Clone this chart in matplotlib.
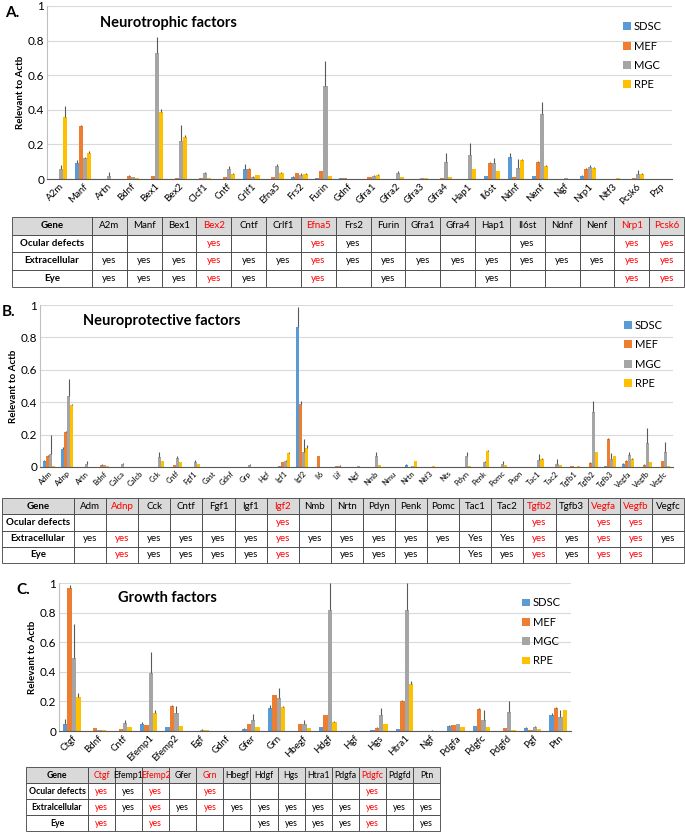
import matplotlib
matplotlib.use("Agg")
from matplotlib import pyplot as plt
from matplotlib.patches import Rectangle
import numpy as np

plt.rcParams['font.family'] = ['Lato', 'DejaVu Sans']

series_names = ["SDSC", "MEF", "MGC", "RPE"]
series_colors = ["#5B9BD5", "#ED7D31", "#A5A5A5", "#FFC000"]

# ---- panel A: neurotrophic factors
a_genes = ["A2m", "Manf", "Artn", "Bdnf", "Bex1", "Bex2", "Clcf1", "Cntf", "Crlf1", "Efna5",
           "Frs2", "Furin", "Gdnf", "Gfra1", "Gfra2", "Gfra3", "Gfra4", "Hap1", "Il6st", "Ndnf",
           "Nenf", "Ngf", "Nrp1", "Ntf3", "Pcsk6", "Pzp"]
a_sdsc = [0, 0.09, 0, 0, 0, 0, 0, 0, 0.06, 0, 0.01, 0.005, 0.003, 0, 0, 0.002, 0, 0, 0.015, 0.125,
          0.015, 0, 0.02, 0, 0, 0]
a_sdsc_err = [0, 0.02, 0, 0, 0, 0, 0, 0, 0.025, 0, 0.005, 0, 0, 0, 0, 0, 0, 0, 0.005, 0.025,
              0.005, 0, 0.003, 0, 0, 0]
a_mef = [0, 0.305, 0, 0.018, 0.015, 0.005, 0.005, 0.01, 0.06, 0.01, 0.035, 0.045, 0.003, 0.01, 0, 0,
         0.005, 0, 0.095, 0.01, 0.1, 0, 0.06, 0, 0.003, 0]
a_mef_err = [0, 0.005, 0, 0.003, 0, 0, 0, 0.003, 0.005, 0, 0.002, 0, 0, 0.002, 0, 0, 0.002, 0,
             0.005, 0, 0.005, 0, 0.003, 0, 0, 0]
a_mgc = [0.055, 0.12, 0.02, 0.012, 0.73, 0.22, 0.035, 0.055, 0.01, 0.073, 0.025, 0.535, 0, 0.02,
         0.035, 0.005, 0.1, 0.14, 0.095, 0.065, 0.375, 0.003, 0.07, 0, 0.03, 0]
a_mgc_err = [0.025, 0.005, 0.02, 0.002, 0.09, 0.09, 0.008, 0.018, 0.005, 0.015, 0.008, 0.145, 0,
             0.005, 0.01, 0.002, 0.05, 0.07, 0.025, 0.05, 0.07, 0.003, 0.01, 0, 0.02, 0]
a_rpe = [0.36, 0.15, 0, 0.008, 0.385, 0.24, 0.003, 0.03, 0.025, 0.033, 0.03, 0.015, 0, 0.025, 0.01,
         0.005, 0.01, 0.055, 0.045, 0.11, 0.075, 0.002, 0.065, 0.003, 0.03, 0]
a_rpe_err = [0.06, 0.01, 0, 0, 0.02, 0.015, 0, 0.003, 0, 0.005, 0.005, 0, 0, 0.005, 0.003, 0,
             0.003, 0, 0, 0.005, 0.005, 0, 0.005, 0, 0.005, 0]

a_tab_genes = ["A2m", "Manf", "Bex1", "Bex2", "Cntf", "Crlf1", "Efna5", "Frs2", "Furin", "Gfra1",
               "Gfra4", "Hap1", "Il6st", "Ndnf", "Nenf", "Nrp1", "Pcsk6"]
a_tab_ocular = ["", "", "", "yes", "", "", "yes", "yes", "", "", "", "", "yes", "", "", "yes", "yes"]
a_tab_extra = ["yes", "yes", "yes", "yes", "yes", "yes", "yes", "yes", "yes", "yes", "yes", "yes",
               "yes", "yes", "yes", "yes", "yes"]
a_tab_eye = ["yes", "yes", "yes", "yes", "yes", "", "yes", "", "yes", "", "", "yes", "", "", "",
             "yes", "yes"]
a_red = ["Bex2", "Efna5", "Nrp1", "Pcsk6"]

# ---- panel B: neuroprotective factors
b_genes = ["Adm", "Adnp", "Artn", "Bdnf", "Calca", "Calcb", "Cck", "Cntf", "Fgf1", "Gast", "Gdnf",
           "Grp", "Hgf", "Igf1", "Igf2", "Il6", "Lif", "Ngf", "Nmb", "Nmu", "Nrtn", "Ntf3", "Nts",
           "Pdyn", "Penk", "Pomc", "Pspn", "Tac1", "Tac2", "Tgfb1", "Tgfb2", "Tgfb3", "Vegfa",
           "Vegfb", "Vegfc"]
b_sdsc = [0.035, 0.11, 0, 0, 0, 0, 0, 0, 0, 0, 0.002, 0, 0, 0.008, 0.865, 0, 0, 0, 0, 0, 0.015,
          0, 0, 0, 0, 0, 0, 0, 0, 0, 0, 0.005, 0.02, 0.003, 0]
b_sdsc_err = [0.01, 0.015, 0, 0, 0, 0, 0, 0, 0, 0, 0, 0, 0, 0, 0.125, 0, 0, 0, 0, 0, 0.005,
              0, 0, 0, 0, 0, 0, 0, 0, 0, 0, 0, 0.005, 0, 0]
b_mef = [0.07, 0.215, 0, 0.015, 0, 0, 0.003, 0.01, 0, 0.002, 0.003, 0, 0.003, 0.03, 0.39, 0.065,
         0.008, 0, 0, 0, 0.003, 0, 0, 0, 0, 0, 0, 0, 0, 0.004, 0.025, 0.175, 0.04, 0.015, 0.035]
b_mef_err = [0.003, 0.01, 0, 0.003, 0, 0, 0, 0.003, 0, 0, 0, 0, 0, 0.003, 0.015, 0.003, 0, 0, 0,
             0, 0, 0, 0, 0, 0, 0, 0, 0, 0, 0, 0.003, 0.005, 0.003, 0.003, 0]
b_mgc = [0.08, 0.44, 0.02, 0.01, 0.018, 0, 0.06, 0.055, 0.03, 0, 0, 0.01, 0, 0.035, 0.09, 0,
         0.005, 0.005, 0.065, 0, 0.005, 0, 0, 0.07, 0.03, 0.02, 0, 0.045, 0.02, 0, 0.34, 0.05,
         0.075, 0.15, 0.095]
b_mgc_err = [0.115, 0.105, 0.02, 0.003, 0.008, 0, 0.035, 0.015, 0.012, 0, 0, 0.01, 0, 0.01, 0.085,
             0, 0.008, 0.003, 0.03, 0, 0.003, 0, 0, 0.025, 0.01, 0.02, 0, 0.035, 0.03, 0, 0.07,
             0.035, 0.02, 0.09, 0.06]
b_rpe = [0.008, 0.38, 0, 0.005, 0, 0, 0.035, 0.03, 0.018, 0, 0, 0.003, 0, 0.088, 0.12, 0, 0,
         0.002, 0.01, 0.002, 0.035, 0.004, 0, 0.008, 0.097, 0.015, 0, 0.05, 0.012, 0.004, 0.09,
         0.065, 0.05, 0.033, 0.005]
b_rpe_err = [0, 0.01, 0, 0, 0, 0, 0.003, 0.003, 0.003, 0, 0, 0, 0, 0.005, 0.015, 0, 0, 0, 0, 0,
             0.003, 0, 0, 0, 0.005, 0, 0, 0.003, 0, 0, 0.003, 0.005, 0.003, 0, 0]

b_tab_genes = ["Adm", "Adnp", "Cck", "Cntf", "Fgf1", "Igf1", "Igf2", "Nmb", "Nrtn", "Pdyn", "Penk",
               "Pomc", "Tac1", "Tac2", "Tgfb2", "Tgfb3", "Vegfa", "Vegfb", "Vegfc"]
b_tab_ocular = ["", "", "", "", "", "", "yes", "", "", "", "", "", "", "", "yes", "", "yes", "yes", ""]
b_tab_extra = ["yes", "yes", "yes", "yes", "yes", "yes", "yes", "yes", "yes", "yes", "yes", "yes",
               "Yes", "Yes", "yes", "yes", "yes", "yes", "yes"]
b_tab_eye = ["", "yes", "yes", "yes", "yes", "yes", "yes", "", "yes", "yes", "yes", "", "Yes",
             "yes", "yes", "yes", "yes", "yes", ""]
b_red = ["Adnp", "Igf2", "Tgfb2", "Vegfa", "Vegfb"]

# ---- panel C: growth factors
c_genes = ["Ctgf", "Bdnf", "Cntf", "Efemp1", "Efemp2", "Egf", "Gdnf", "Gfer", "Grn", "Hbegf",
           "Hdgf", "Hgf", "Hgs", "Htra1", "Ngf", "Pdgfa", "Pdgfc", "Pdgfd", "Pgf", "Ptn"]
c_sdsc = [0.045, 0, 0, 0.045, 0.025, 0, 0.003, 0.012, 0.155, 0.003, 0.025, 0, 0.005, 0.012, 0,
          0.035, 0.033, 0, 0.02, 0.11]
c_sdsc_err = [0.035, 0, 0, 0.015, 0.003, 0, 0, 0.005, 0.02, 0, 0.002, 0, 0, 0.003, 0, 0.005,
              0.003, 0, 0.005, 0.01]
c_mef = [0.968, 0.018, 0.012, 0.042, 0.17, 0, 0, 0.045, 0.24, 0.045, 0.105, 0.003, 0.022, 0.205,
         0, 0.04, 0.15, 0.02, 0.008, 0.155]
c_mef_err = [0.02, 0.002, 0, 0, 0.008, 0, 0, 0.003, 0.005, 0.003, 0.005, 0, 0.003, 0.005, 0,
             0.003, 0.008, 0.003, 0, 0.005]
c_mgc = [0.495, 0.01, 0.055, 0.39, 0.125, 0.008, 0, 0.072, 0.22, 0.05, 0.82, 0, 0.105, 0.815,
         0.003, 0.045, 0.075, 0.13, 0.025, 0.092]
c_mgc_err = [0.225, 0, 0.018, 0.145, 0.045, 0.003, 0, 0.04, 0.07, 0.022, 0.18, 0, 0.05, 0.185,
             0.005, 0.005, 0.07, 0.07, 0.008, 0.05]
c_rpe = [0.232, 0.008, 0.03, 0.125, 0.032, 0.005, 0, 0.025, 0.16, 0.018, 0.06, 0, 0.045, 0.32,
         0.002, 0.03, 0.03, 0.01, 0.012, 0.14]
c_rpe_err = [0.022, 0, 0, 0.02, 0, 0, 0, 0, 0.01, 0, 0.005, 0, 0, 0.015, 0, 0, 0, 0, 0, 0.003]

c_tab_genes = ["Ctgf", "Efemp1", "Efemp2", "Gfer", "Grn", "Hbegf", "Hdgf", "Hgs", "Htra1", "Pdgfa",
               "Pdgfc", "Pdgfd", "Ptn"]
c_tab_ocular = ["yes", "yes", "yes", "", "yes", "", "", "", "", "", "yes", "", ""]
c_tab_extra = ["yes", "yes", "yes", "yes", "yes", "yes", "yes", "yes", "yes", "yes", "yes", "yes", "yes"]
c_tab_eye = ["yes", "", "yes", "", "", "", "yes", "yes", "yes", "yes", "yes", "", "yes"]
c_red = ["Ctgf", "Efemp2", "Grn", "Pdgfc"]

W, H = 685, 834


def draw_panel(rect, genes, values, errors, title, title_x, letter, letter_x, tick_fs):
    ax = fig.add_axes(rect)
    x = np.arange(len(genes))
    bw = 0.17
    for i in range(4):
        pos = x + (i - 1.5) * bw
        ax.bar(pos, values[i], bw, color=series_colors[i], label=series_names[i], zorder=2)
        ax.errorbar(pos, values[i], yerr=[np.zeros(len(genes)), errors[i]], fmt="none",
                    ecolor="#595959", elinewidth=0.8, capsize=0, zorder=3)
    ax.set_xlim(-0.5, len(genes) - 0.5)
    ax.set_ylim(0, 1)
    ax.set_yticks([0, 0.2, 0.4, 0.6, 0.8, 1.0])
    ax.set_yticklabels(["0", "0.2", "0.4", "0.6", "0.8", "1"], fontsize=8.5)
    ax.set_xticks(x)
    ax.set_xticklabels(genes, rotation=45, ha="right", rotation_mode="anchor", fontsize=tick_fs)
    ax.tick_params(length=0, pad=2)
    ax.grid(axis="y", color="#D9D9D9", lw=0.8, zorder=0)
    for s in ["top", "right"]:
        ax.spines[s].set_visible(False)
    ax.spines["left"].set_color("#BFBFBF")
    ax.spines["bottom"].set_color("#595959")
    ax.set_ylabel("Relevant to Actb", fontsize=7, fontweight="bold", labelpad=2)
    ax.text(title_x, 0.9, title, transform=ax.transAxes, ha="left", va="center",
            fontsize=10.5, fontweight="bold")
    ax.legend(loc="upper right", bbox_to_anchor=(1.0, 0.97), frameon=False, fontsize=8,
              handlelength=0.7, handleheight=0.7, handletextpad=0.3, labelspacing=0.75)
    fig.text(letter_x / W, rect[1] + rect[3], letter, fontsize=11, fontweight="bold",
             ha="left", va="top")
    return ax


def draw_table(ax, x0, x1, gene_w, y0, row_h, genes, ocular, extra, eye, red, extra_label, fs):
    n = len(genes)
    cw = (x1 - x0 - gene_w) / n
    rows = [("Gene", genes), ("Ocular defects", ocular), (extra_label, extra), ("Eye", eye)]
    for r, (label, cells) in enumerate(rows):
        y = y0 + r * row_h
        fill = "#D9D9D9" if r == 0 else "white"
        ax.add_patch(Rectangle((x0, y), gene_w, row_h, facecolor=fill, edgecolor="#404040", lw=0.6))
        ax.text(x0 + gene_w / 2, y + row_h / 2, label, ha="center", va="center",
                fontsize=fs, fontweight="bold")
        for j in range(n):
            cx = x0 + gene_w + j * cw
            ax.add_patch(Rectangle((cx, y), cw, row_h, facecolor=fill, edgecolor="#404040", lw=0.6))
            col = "#FF0000" if genes[j] in red else "black"
            ax.text(cx + cw / 2, y + row_h / 2, cells[j], ha="center", va="center",
                    fontsize=fs, color=col)


fig = plt.figure(figsize=(W / 100, H / 100), dpi=100)

draw_panel([47 / W, 1 - 179 / H, 625 / W, 173 / H], a_genes,
           [a_sdsc, a_mef, a_mgc, a_rpe], [a_sdsc_err, a_mef_err, a_mgc_err, a_rpe_err],
           "Neurotrophic factors", 0.085, "A.", 5, 7)
draw_panel([40 / W, 1 - 467 / H, 633 / W, 162 / H], b_genes,
           [b_sdsc, b_mef, b_mgc, b_rpe], [b_sdsc_err, b_mef_err, b_mgc_err, b_rpe_err],
           "Neuroprotective factors", 0.068, "B.", 2, 5.5)
draw_panel([59 / W, 1 - 731 / H, 512 / W, 148 / H], c_genes,
           [c_sdsc, c_mef, c_mgc, c_rpe], [c_sdsc_err, c_mef_err, c_mgc_err, c_rpe_err],
           "Growth factors", 0.115, "C.", 16, 7)

tab = fig.add_axes([0, 0, 1, 1])
tab.set_xlim(0, W)
tab.set_ylim(H, 0)
tab.axis("off")
tab.patch.set_alpha(0)
draw_table(tab, 12, 684, 80, 217, 17.5, a_tab_genes, a_tab_ocular, a_tab_extra, a_tab_eye,
           a_red, "Extracellular", 7)
draw_table(tab, 2, 684, 72, 498, 16.25, b_tab_genes, b_tab_ocular, b_tab_extra, b_tab_eye,
           b_red, "Extracellular", 7)
draw_table(tab, 26, 440, 62, 767, 16, c_tab_genes, c_tab_ocular, c_tab_extra, c_tab_eye,
           c_red, "Extralcellular", 6.3)

fig.savefig("out.png", dpi=100)
